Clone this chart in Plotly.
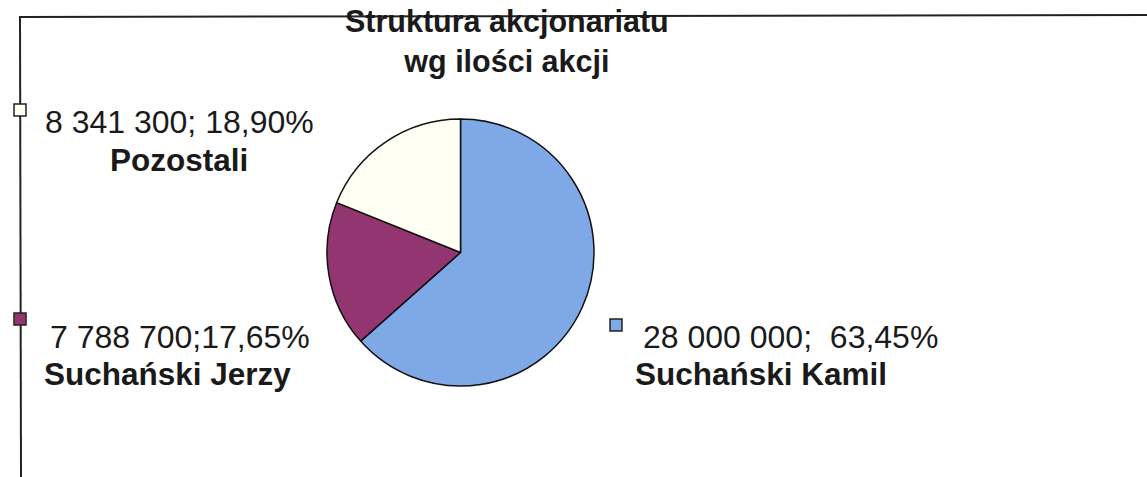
import plotly.graph_objects as go

# Data
names = ["Suchański Kamil", "Suchański Jerzy", "Pozostali"]
shares = [28000000, 7788700, 8341300]
value_texts = ["28 000 000;  63,45%", "7 788 700;17,65%", "8 341 300; 18,90%"]
colors = ["#7FA8E6", "#933570", "#FFFFF4"]
title_lines = ["Struktura akcjonariatu", "wg ilości akcji"]

W, H = 1147, 477

def px(x):
    return x / W

def py(y):
    return 1 - y / H

fig = go.Figure()
fig.add_trace(go.Pie(
    labels=names,
    values=shares,
    sort=False,
    direction="clockwise",
    rotation=0,
    textinfo="none",
    hoverinfo="skip",
    marker=dict(colors=colors, line=dict(color="#111111", width=1.5)),
    domain=dict(x=[px(327), px(594)], y=[py(386), py(119)]),
    showlegend=False,
))

font_family = "Liberation Sans, Arial, sans-serif"
FS = 32
FSB = 31.5
annotations = []
# Title (two lines in one text block)
annotations.append(dict(x=px(507), y=py(41), text="<b>" + "<br>".join(title_lines) + "</b>",
                        showarrow=False, xanchor="center", yanchor="middle",
                        font=dict(size=30.5, color="#1a1a1a", family=font_family)))

# Label placements (pixel positions)
layout_pos = {
    0: dict(vx=641, vy=337, nx=633, ny=374, nanchor="left", mx=616, my=325),
    1: dict(vx=48, vy=337, nx=42, ny=374, nanchor="left", mx=20, my=319),
    2: dict(vx=43, vy=122, nx=179, ny=160, nanchor="center", mx=20, my=110),
}
for i, name in enumerate(names):
    p = layout_pos[i]
    annotations.append(dict(x=px(p["vx"]), y=py(p["vy"]), text=value_texts[i],
                            showarrow=False, xanchor="left", yanchor="middle",
                            font=dict(size=FS, color="#1a1a1a", family=font_family)))
    annotations.append(dict(x=px(p["nx"]), y=py(p["ny"]), text="<b>" + name + "</b>",
                            showarrow=False, xanchor=p["nanchor"], yanchor="middle",
                            font=dict(size=FSB, color="#1a1a1a", family=font_family)))

shapes = []
# Frame lines
shapes.append(dict(type="line", xref="paper", yref="paper", x0=px(19), x1=px(1147), y0=py(17), y1=py(15),
                   line=dict(color="#222222", width=2)))
shapes.append(dict(type="line", xref="paper", yref="paper", x0=px(20), x1=px(21), y0=py(17), y1=py(477),
                   line=dict(color="#222222", width=2)))
# Legend-like markers
for i in range(len(names)):
    p = layout_pos[i]
    shapes.append(dict(type="rect", xref="paper", yref="paper",
                       x0=px(p["mx"] - 6), x1=px(p["mx"] + 6),
                       y0=py(p["my"] + 6), y1=py(p["my"] - 6),
                       fillcolor=colors[i], line=dict(color="#222222", width=1.5)))

fig.update_layout(
    width=W, height=H,
    margin=dict(l=0, r=0, t=0, b=0),
    paper_bgcolor="white",
    plot_bgcolor="white",
    annotations=annotations,
    shapes=shapes,
    hovermode=False,
)

fig.write_html(
    "out.html",
    config={"displayModeBar": False},
    post_script="document.body.style.margin='0';document.body.style.padding='0';",
)
